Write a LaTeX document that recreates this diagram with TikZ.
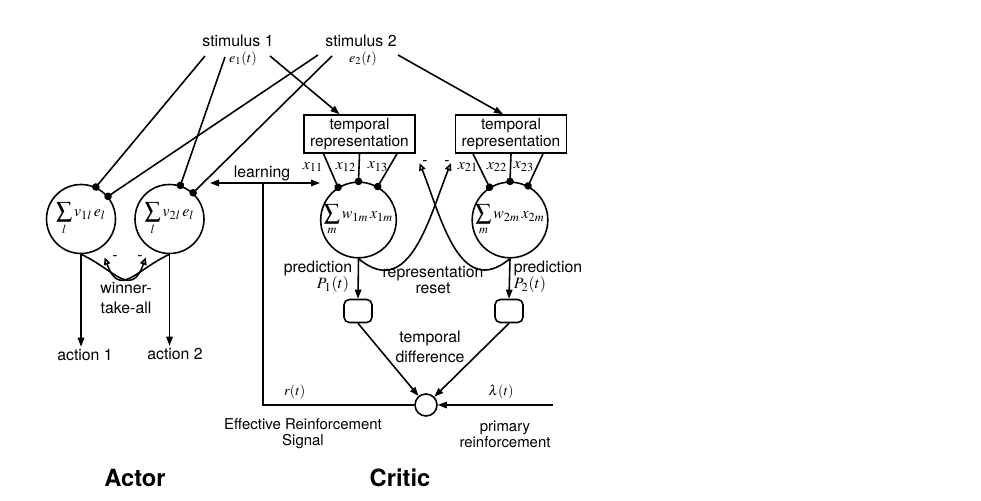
\documentclass[tikz,border=0pt]{standalone}
\usepackage{amsmath}
\usepackage{mathptmx}
\usepackage{fontspec}
\setmainfont{TeX Gyre Heros}
\usetikzlibrary{positioning,arrows.meta}

\begin{document}
\begin{tikzpicture}[>={Triangle[length=1.8mm,width=1.3mm]},line width=0.9pt,
  unit/.style={draw,circle,inner sep=0pt,minimum size=1.38cm,font=\small},
  trbox/.style={draw,minimum width=2.22cm,minimum height=0.76cm,inner sep=1pt,align=center,font=\fontsize{8.8}{9.4}\selectfont},
  dot/.style={-{Circle[length=1.5mm]},shorten >=-0.75mm},
  inh/.style={-{Triangle[open,length=1.5mm,width=1.3mm]},shorten >=0.2cm},
  lbl/.style={font=\small,inner sep=1pt,align=center}]
\useasboundingbox (0,0) rectangle (19.62,10.02);
% stimuli
\node[lbl] (s1) at (4.76,9.20) {stimulus 1};
\node[lbl,font=\footnotesize] (e1) at (4.86,8.84) {$e_1(t)$};
\node[lbl] (s2) at (7.22,9.20) {stimulus 2};
\node[lbl,font=\footnotesize] (e2) at (7.26,8.84) {$e_2(t)$};
% actor
\node[unit] (act1) at (1.62,5.64) {$\displaystyle\sum_{l} v_{1l}\,e_l$};
\node[unit] (act2) at (3.39,5.64) {$\displaystyle\sum_{l} v_{2l}\,e_l$};
\node[lbl] (a1) at (1.70,2.92) {action 1};
\node[lbl] (a2) at (3.50,2.94) {action 2};
\node[lbl,font=\fontsize{9}{11}\selectfont] (wta) at (2.52,4.06) {winner-\\take-all};
\node[lbl] (m1) at (2.30,4.86) {-};
\node[lbl] (m2) at (2.80,4.86) {-};
\node[font=\fontsize{13.5}{16}\selectfont\bfseries] (actor) at (2.70,0.46) {Actor};
% critic
\node[trbox] (tr1) at (7.19,7.34) {temporal\\representation};
\node[trbox] (tr2) at (10.22,7.34) {temporal\\representation};
\node[unit,minimum size=1.44cm] (cr1) at (7.17,5.62) {$\displaystyle\sum_{m} w_{1m}\,x_{1m}$};
\node[unit,minimum size=1.44cm] (cr2) at (10.20,5.62) {$\displaystyle\sum_{m} w_{2m}\,x_{2m}$};
\node[draw,rounded corners=3pt,minimum width=0.56cm,minimum height=0.46cm] (pb1) at (7.16,3.80) {};
\node[draw,rounded corners=3pt,minimum width=0.56cm,minimum height=0.46cm] (pb2) at (10.18,3.80) {};
\node[draw,circle,inner sep=0pt,minimum size=0.44cm] (sum) at (8.52,1.92) {};
\coordinate (lam) at (11.06,1.92);
\coordinate (rc) at (5.26,1.92);
\coordinate (lrnL) at (4.20,6.36);
\coordinate (lrnR) at (6.40,6.36);
\node[lbl] (x11) at (6.26,6.68) {$x_{11}$};
\node[lbl] (x12) at (6.92,6.68) {$x_{12}$};
\node[lbl] (x13) at (7.56,6.68) {$x_{13}$};
\node[lbl] (x21) at (9.36,6.68) {$x_{21}$};
\node[lbl] (x22) at (9.94,6.68) {$x_{22}$};
\node[lbl] (x23) at (10.48,6.68) {$x_{23}$};
\node[lbl] (m3) at (8.50,6.76) {-};
\node[lbl] (m4) at (8.94,6.76) {-};
\node[lbl] (learn) at (5.24,6.56) {learning};
\node[lbl] (pr1) at (6.36,4.66) {prediction};
\node[lbl] (p1) at (6.66,4.32) {$P_1(t)$};
\node[lbl] (pr2) at (10.96,4.66) {prediction};
\node[lbl] (p2) at (10.60,4.32) {$P_2(t)$};
\node[lbl,font=\fontsize{9}{9.4}\selectfont] (reset) at (8.66,4.42) {representation\\reset};
\node[lbl,font=\fontsize{9}{11}\selectfont] (td) at (8.60,3.08) {temporal\\difference};
\node[lbl,font=\fontsize{8.5}{9.2}\selectfont] (ers) at (6.06,1.34) {Effective Reinforcement\\Signal};
\node[lbl,font=\fontsize{8.5}{9.2}\selectfont] (prim) at (10.10,1.34) {primary\\reinforcement};
\node[font=\fontsize{13.5}{16}\selectfont\bfseries] (critic) at (8.00,0.46) {Critic};
% stimulus inputs
\draw[dot] ([shift={(-0.76,0.06)}]e1.center) -- (act1.65);
\draw[dot] ([shift={(-0.36,0.04)}]e1.center) -- (act2.72);
\draw[dot] ([shift={(-0.90,0.08)}]e2.center) -- (act1.40);
\draw[dot] ([shift={(-0.62,0.06)}]e2.center) -- (act2.48);
\draw[->] ([shift={(0.54,0.06)}]e1.center) -- ([xshift=-0.4cm]tr1.north);
\draw[->] ([shift={(0.70,0.08)}]e2.center) -- ([xshift=-0.16cm]tr2.north);
% actions and winner-take-all
\draw[->] (act1.south) -- (act1.south |- a1.north);
\draw[->] (act2.south) -- (act2.south |- a2.north);
\draw[inh] (act1.south) .. controls (2.30,4.62) and (2.62,4.05) .. (act2.235);
\draw[inh] (act2.south) .. controls (2.71,4.62) and (2.39,4.05) .. (act1.305);
% temporal representations
\draw[dot] ([xshift=-0.72cm]tr1.south) -- (cr1.122);
\draw[dot] (tr1.south) -- (cr1.90);
\draw[dot] ([xshift=0.75cm]tr1.south) -- (cr1.60);
\draw[dot] ([xshift=-0.76cm]tr2.south) -- (cr2.122);
\draw[dot] (tr2.south) -- (cr2.90);
\draw[dot] ([xshift=0.64cm]tr2.south) -- (cr2.62);
% representation reset
\draw[inh] (cr1.south) to[out=-40,in=-112,looseness=1.2] (tr2.south west);
\draw[inh] (cr2.south) to[out=-140,in=-68,looseness=1.2] (tr1.south east);
% predictions and temporal difference
\draw[->] (cr1.south) -- (pb1.north);
\draw[->] (cr2.south) -- (pb2.north);
\draw[->] (pb1.south) -- (sum);
\draw[->] (pb2.south) -- (sum);
\draw[->] (lam) -- node[lbl,pos=0.45,above=2pt,font=\footnotesize]{$\lambda(t)$} (sum);
\draw (sum.west) -- node[lbl,pos=0.79,above=2pt,font=\footnotesize]{$r(t)$} (rc) -- (rc |- lrnL);
\draw[<->] (lrnL) -- (lrnR);
\end{tikzpicture}
\end{document}
